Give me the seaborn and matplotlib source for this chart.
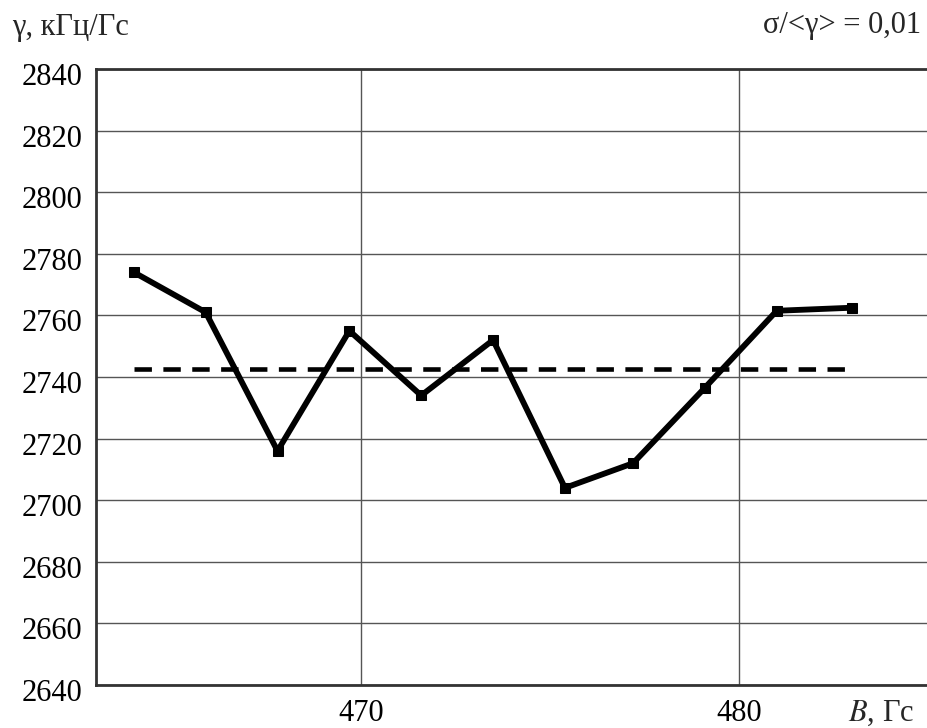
import numpy as np
import pandas as pd
import matplotlib
matplotlib.use("Agg")
import matplotlib.pyplot as plt
import matplotlib.transforms as mtransforms
import seaborn as sns

# Magnetic field, G
field_B = [464.0, 465.9, 467.8, 469.7, 471.6, 473.5, 475.4, 477.2, 479.1, 481.0, 483.0]
# Gyromagnetic ratio, kHz/G
gamma_vals = [2774, 2761, 2716, 2755, 2734, 2752, 2704, 2712, 2736.5, 2761.5, 2762.5]

y_ticks = [2640, 2660, 2680, 2700, 2720, 2740, 2760, 2780, 2800, 2820, 2840]
x_ticks = [470, 480]

df = pd.DataFrame({"B": field_B, "gamma": gamma_vals})
gamma_mean = float(np.mean(gamma_vals))

sns.set_style("white")
plt.rcParams["font.family"] = ["Liberation Serif", "DejaVu Serif"]

FS = 22

fig = plt.figure(figsize=(9.28, 7.28), dpi=100)
ax = fig.add_axes([96 / 928, 43 / 728, 1 - 96 / 928, 616 / 728])

# mean level
ax.plot([field_B[0], field_B[-1]], [gamma_mean, gamma_mean], color="black",
        lw=3.3, ls=(0, (3.8, 2.5)), zorder=3)

sns.lineplot(data=df, x="B", y="gamma", ax=ax, color="black", lw=4.2,
             marker="s", markersize=6.5, markeredgecolor="black", zorder=4)

ax.set_xlim(463, 485)
ax.set_ylim(2640, 2840)
ax.set_xticks(x_ticks)
ax.set_yticks(y_ticks)
ax.set_xticklabels([str(t) for t in x_ticks])
ax.set_yticklabels([str(t) for t in y_ticks])
ax.set_xlabel("")
ax.set_ylabel("")

ax.grid(True, color="#555555", lw=1.0)
ax.set_axisbelow(True)
ax.tick_params(axis="both", length=0, labelsize=FS, colors="black")
ax.tick_params(axis="y", pad=10)
ax.tick_params(axis="x", pad=10)

# nudge y labels slightly downward
offset = mtransforms.ScaledTranslation(0, -5 / 100, fig.dpi_scale_trans)
for lbl in ax.get_yticklabels():
    lbl.set_transform(lbl.get_transform() + offset)

for side in ["left", "bottom", "top"]:
    ax.spines[side].set_visible(True)
    ax.spines[side].set_color("#333333")
    ax.spines[side].set_linewidth(2.0)
ax.spines["right"].set_visible(False)

fig.text(12 / 928, 1 - 27 / 728, "γ, кГц/Гс", fontsize=FS, ha="left", va="center")
fig.text(921 / 928, 1 - 26 / 728, "σ/<γ> = 0,01", fontsize=FS, ha="right", va="center")
fig.text(914 / 928, 1 - 713 / 728, r"$\mathit{B}$" + ", Гс", fontsize=FS,
         ha="right", va="center", math_fontfamily="stix")

fig.savefig("out.png", dpi=100)
